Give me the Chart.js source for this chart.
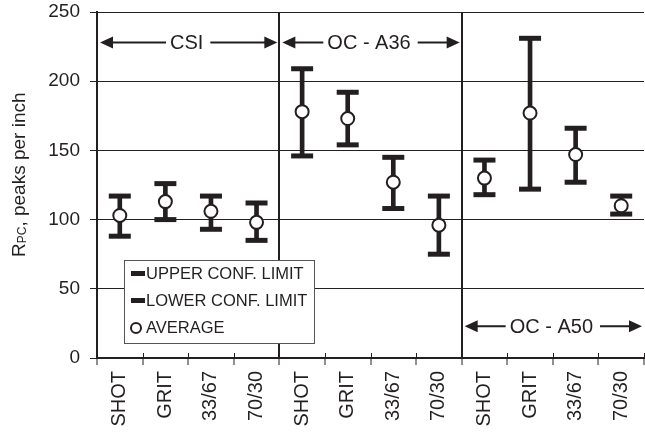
<!DOCTYPE html>
<html><head><meta charset="utf-8">
<script src="https://cdn.jsdelivr.net/npm/chart.js@4.4.1/dist/chart.umd.min.js"></script>
<style>html,body{margin:0;padding:0;background:#fff;}canvas{display:block;}</style>
</head><body>
<canvas id="c" width="645" height="437"></canvas>
<script>
const categories = ['SHOT','GRIT','33/67','70/30','SHOT','GRIT','33/67','70/30','SHOT','GRIT','33/67','70/30'];
const upperLimit = [117,126,117,112, 209,192,145,117, 143,231,166,117];
const average    = [103,113,106,98,  178,173,127,96,  130,177,147,110];
const lowerLimit = [88,100,93,85,    146,154,108,75,  118,122,127,104];
const groupNames = ['CSI','OC - A36','OC - A50'];
const groupArrowLevel = [228,228,23];
const yTickValues = [0,50,100,150,200,250];
const legendLabels = ['UPPER CONF. LIMIT','LOWER CONF. LIMIT','AVERAGE'];

const INK = '#231f20';
const FONT = '"Liberation Sans", Arial, Helvetica, sans-serif';

// markers sit well inside the plot; don't let their size add extra layout padding
Chart.LineController.prototype.getMaxOverflow = function () { return 0; };

const overlayPlugin = {
  id: 'overlay',
  afterDatasetsDraw(chart) {
    const {ctx, chartArea, scales: {x, y}} = chart;
    ctx.save();
    const w = x.getPixelForValue(1) - x.getPixelForValue(0);
    // tick marks crossing the x axis
    ctx.strokeStyle = INK; ctx.lineWidth = 1;
    ctx.beginPath();
    for (let i = 0; i <= categories.length; i++) {
      const bx = Math.round(x.getPixelForValue(0) - w / 2 + i * w) + 0.5;
      ctx.moveTo(bx, chartArea.bottom - 5); ctx.lineTo(bx, chartArea.bottom);
    }
    ctx.stroke();
    // group arrows
    groupNames.forEach((name, g) => {
      const x0 = x.getPixelForValue(g * 4) - w / 2 + 3;
      const x1 = x.getPixelForValue(g * 4 + 3) + w / 2 - 2;
      const py = y.getPixelForValue(groupArrowLevel[g]);
      ctx.font = '20px ' + FONT;
      const tw = ctx.measureText(name).width;
      const cx = (x0 + x1) / 2 - 2;
      const tl = cx - tw / 2, tr = cx + tw / 2;
      ctx.strokeStyle = INK; ctx.fillStyle = INK; ctx.lineWidth = 2;
      ctx.beginPath();
      ctx.moveTo(x0 + 10, py); ctx.lineTo(tl - 4, py);
      ctx.moveTo(tr + 7, py); ctx.lineTo(x1 - 10, py);
      ctx.stroke();
      ctx.beginPath();
      ctx.moveTo(x0, py); ctx.lineTo(x0 + 13, py - 6); ctx.lineTo(x0 + 13, py + 6); ctx.closePath();
      ctx.moveTo(x1, py); ctx.lineTo(x1 - 13, py - 6); ctx.lineTo(x1 - 13, py + 6); ctx.closePath();
      ctx.fill();
      ctx.textAlign = 'center'; ctx.textBaseline = 'middle';
      ctx.fillText(name, cx, py + 1);
    });
    // legend box
    const bx = chartArea.left + 27, by = 260, bw = 190, bh = 83;
    ctx.fillStyle = '#fff';
    ctx.fillRect(bx, by, bw, bh);
    ctx.strokeStyle = '#555'; ctx.lineWidth = 1;
    ctx.strokeRect(bx + 0.5, by + 0.5, bw, bh);
    ctx.fillStyle = INK; ctx.strokeStyle = INK;
    ctx.font = '16.5px ' + FONT;
    ctx.textAlign = 'left'; ctx.textBaseline = 'middle';
    legendLabels.forEach((lab, i) => {
      const ry = by + 13 + i * 27;
      if (i < 2) {
        ctx.fillRect(bx + 7, ry - 2, 14, 5);
      } else {
        ctx.lineWidth = 2;
        ctx.beginPath(); ctx.arc(bx + 12, ry + 1, 5, 0, Math.PI * 2); ctx.stroke();
      }
      ctx.fillText(lab, bx + 22, ry + 1);
    });
    ctx.restore();
  },
  afterDraw(chart) {
    const {ctx} = chart;
    ctx.save();
    ctx.translate(25, 257);
    ctx.rotate(-Math.PI / 2);
    ctx.fillStyle = INK;
    ctx.textAlign = 'left'; ctx.textBaseline = 'alphabetic';
    ctx.font = '19px ' + FONT;
    ctx.fillText('R', 0, 0);
    let px = ctx.measureText('R').width;
    ctx.font = '12px ' + FONT;
    ctx.fillText('PC', px, 1);
    px += ctx.measureText('PC').width;
    ctx.font = '19px ' + FONT;
    ctx.fillText(', peaks per inch', px, 0);
    ctx.restore();
  }
};

new Chart(document.getElementById('c'), {
  type: 'bar',
  data: {
    labels: categories,
    datasets: [
      { type: 'line', data: average, showLine: false, pointStyle: 'circle', pointRadius: 6.5,
        pointBackgroundColor: '#fff', pointBorderColor: INK, pointBorderWidth: 2, order: 1 },
      { type: 'line', data: upperLimit, showLine: false, pointStyle: 'line', pointRadius: 11,
        pointBorderColor: INK, pointBorderWidth: 5, order: 2 },
      { type: 'line', data: lowerLimit, showLine: false, pointStyle: 'line', pointRadius: 11,
        pointBorderColor: INK, pointBorderWidth: 5, order: 2 },
      { type: 'bar', data: lowerLimit.map((l, i) => [l, upperLimit[i]]), backgroundColor: INK,
        barThickness: 4, order: 3 }
    ]
  },
  options: {
    responsive: false,
    devicePixelRatio: 1,
    animation: false,
    events: [],
    layout: { padding: { top: 12, right: 1, left: 0, bottom: 0 } },
    plugins: { legend: { display: false }, tooltip: { enabled: false } },
    scales: {
      x: {
        type: 'category',
        offset: true,
        grid: {
          offset: true,
          color: (c) => (c.index === 4 || c.index === 8) ? INK : 'rgba(0,0,0,0)',
          lineWidth: 2,
          tickColor: INK,
          tickLength: 7,
          tickWidth: 1
        },
        border: { color: INK, width: 2 },
        ticks: { color: INK, font: { family: FONT, size: 20 }, maxRotation: 90, minRotation: 90,
                 autoSkip: false, padding: 6 },
        afterFit: (s) => { s.height = 79; s.paddingLeft = 0; s.paddingRight = 0; }
      },
      y: {
        min: 0, max: 250,
        afterBuildTicks: (s) => { s.ticks = yTickValues.map(v => ({ value: v })); },
        grid: { color: INK, lineWidth: 1, tickLength: 7, tickColor: INK },
        border: { color: INK, width: 2 },
        ticks: { color: INK, font: { family: FONT, size: 19 }, padding: 10 },
        afterFit: (s) => { s.width = 97; s.paddingTop = 0; s.paddingBottom = 0; }
      }
    }
  },
  plugins: [overlayPlugin]
});
</script>
</body></html>
